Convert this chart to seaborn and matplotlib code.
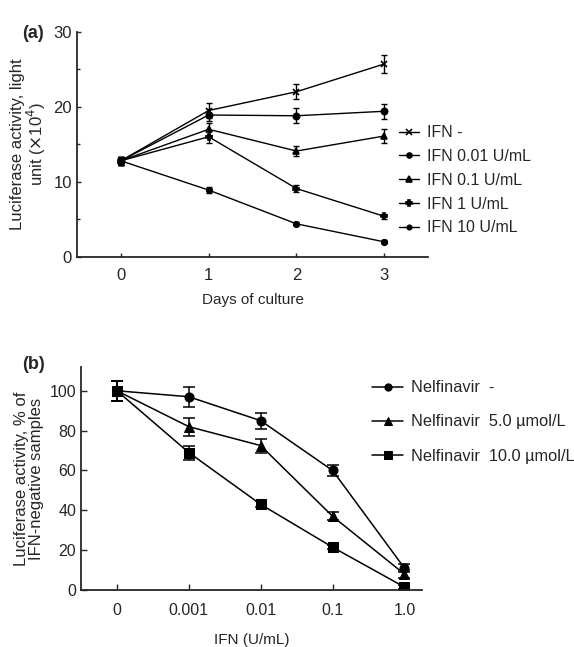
import numpy as np
import pandas as pd
import seaborn as sns
import matplotlib
matplotlib.use('Agg')
import matplotlib.pyplot as plt

# panel (a) data
days = [0, 1, 2, 3]
ifn_labels = ['IFN -', 'IFN 0.01 U/mL', 'IFN 0.1 U/mL', 'IFN 1 U/mL', 'IFN 10 U/mL']
ifn_none = [12.8, 19.5, 22.0, 25.7]
ifn_001 = [12.8, 18.9, 18.8, 19.4]
ifn_01 = [12.8, 17.0, 14.1, 16.1]
ifn_1 = [12.8, 16.0, 9.1, 5.4]
ifn_10 = [12.8, 8.9, 4.4, 2.0]
err_none = [0.5, 1.0, 1.0, 1.2]
err_001 = [0.5, 0.8, 1.0, 1.0]
err_01 = [0.5, 0.8, 0.7, 0.9]
err_1 = [0.5, 0.8, 0.5, 0.3]
err_10 = [0.5, 0.4, 0.2, 0.2]

# panel (b) data
ifn_doses = ['0', '0.001', '0.01', '0.1', '1.0']
nelf_labels = ['Nelfinavir  -', 'Nelfinavir  5.0 \u00b5mol/L', 'Nelfinavir  10.0 \u00b5mol/L']
nelf_none = [100, 97, 85, 60, 11]
nelf_5 = [100, 82, 72.5, 37, 8]
nelf_10 = [100, 69, 43, 21.5, 1.5]
nerr_none = [5, 5, 4, 3, 2]
nerr_5 = [5, 4.5, 3.5, 2, 2]
nerr_10 = [5, 3.5, 1.5, 1, 1]

sns.set_theme(style='ticks')
plt.rcParams['font.family'] = ['Liberation Sans', 'DejaVu Sans']
plt.rcParams['font.size'] = 11

fig = plt.figure(figsize=(5.74, 6.47), dpi=100)
ax1 = fig.add_axes([0.134, 0.603, 0.612, 0.348])
ax2 = fig.add_axes([0.141, 0.088, 0.595, 0.345])

# ---- (a)
series_a = [ifn_none, ifn_001, ifn_01, ifn_1, ifn_10]
errs_a = [err_none, err_001, err_01, err_1, err_10]
markers_a = ['x', 'o', '^', 'P', 'o']
msizes_a = [5, 4.5, 5, 5, 4]
for lab, vals, err, mk, ms in zip(ifn_labels, series_a, errs_a, markers_a, msizes_a):
    df = pd.DataFrame({'day': days, 'val': vals})
    sns.lineplot(data=df, x='day', y='val', ax=ax1, color='black', lw=1,
                 marker=mk, markersize=ms, markeredgecolor='black',
                 markeredgewidth=1.2, label=lab)
    ax1.errorbar(days, vals, yerr=err, fmt='none', ecolor='black',
                 elinewidth=1, capsize=2.5, capthick=1)

ax1.set_xlim(-0.5, 3.5)
ax1.set_ylim(0, 30)
ax1.set_xticks(days)
ax1.set_yticks([0, 10, 20, 30])
ax1.set_yticks([5, 15, 25], minor=True)
ax1.tick_params(direction='in', length=3, width=1, labelsize=12)
ax1.tick_params(which='minor', direction='in', length=2.5, width=1)
ax1.tick_params(axis='x', pad=8)
ax1.set_xlabel('Days of culture', fontsize=11, labelpad=7)
ax1.set_ylabel('Luciferase activity, light\nunit ($\\times$10$^4$)', fontsize=12, labelpad=4,
               linespacing=1.0)
for s in ['top', 'right']:
    ax1.spines[s].set_visible(False)
for s in ['left', 'bottom']:
    ax1.spines[s].set_linewidth(1.3)
ax1.legend(loc='center left', bbox_to_anchor=(0.875, 0.34), frameon=False,
           fontsize=11.5, handlelength=1.3, labelspacing=0.55, handletextpad=0.5,
           markerscale=0.8)
fig.text(0.038, 0.948, '(a)', fontsize=13, fontweight='bold', va='center')

# ---- (b)
xb = np.arange(len(ifn_doses))
series_b = [nelf_none, nelf_5, nelf_10]
errs_b = [nerr_none, nerr_5, nerr_10]
markers_b = ['o', '^', 's']
for lab, vals, err, mk in zip(nelf_labels, series_b, errs_b, markers_b):
    df = pd.DataFrame({'dose': xb, 'val': vals})
    sns.lineplot(data=df, x='dose', y='val', ax=ax2, color='black', lw=1.1,
                 marker=mk, markersize=6.5, markeredgecolor='black', label=lab)
    ax2.errorbar(xb, vals, yerr=err, fmt='none', ecolor='black',
                 elinewidth=1.1, capsize=4, capthick=1.1)

ax2.set_xlim(-0.5, 4.25)
ax2.set_ylim(0, 112)
ax2.set_xticks(xb)
ax2.set_xticklabels(ifn_doses)
ax2.set_yticks([0, 20, 40, 60, 80, 100])
ax2.tick_params(direction='in', length=4, width=1, labelsize=11.5)
ax2.tick_params(axis='x', pad=9)
ax2.set_xlabel('IFN (U/mL)', fontsize=11, labelpad=11)
ax2.set_ylabel('Luciferase activity, % of\nIFN-negative samples', fontsize=12, labelpad=4,
               linespacing=1.0)
for s in ['top', 'right']:
    ax2.spines[s].set_visible(False)
for s in ['left', 'bottom']:
    ax2.spines[s].set_linewidth(1.3)
ax2.legend(loc='upper left', bbox_to_anchor=(0.81, 1.005), frameon=False,
           fontsize=11.8, handlelength=1.9, labelspacing=1.16, handletextpad=0.45,
           markerscale=0.8)
fig.text(0.038, 0.436, '(b)', fontsize=13, fontweight='bold', va='center')

fig.savefig('out.png', dpi=100)
